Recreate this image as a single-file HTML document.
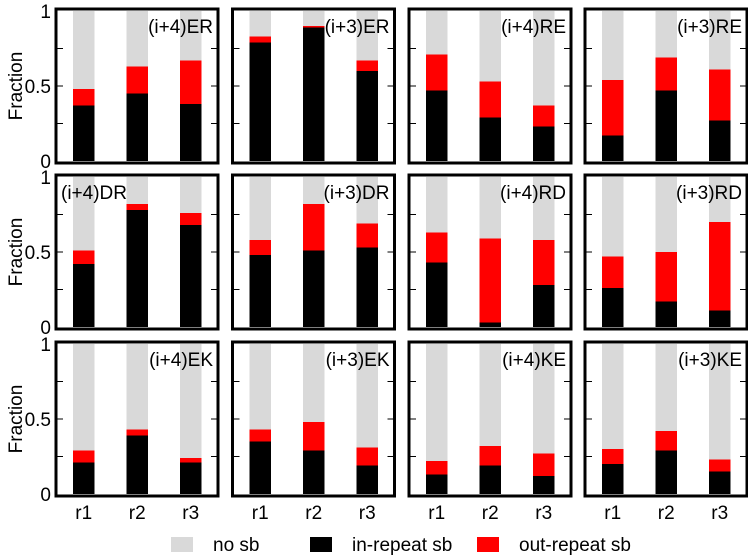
<!DOCTYPE html>
<html><head><meta charset="utf-8"><style>
body{margin:0;background:#fff;}
svg{display:block;font-family:"Liberation Sans",sans-serif;}
</style></head><body>
<svg id="c" width="748" height="555" viewBox="0 0 748 555"></svg>
<script>
const titles=["(i+4)ER","(i+3)ER","(i+4)RE","(i+3)RE","(i+4)DR","(i+3)DR","(i+4)RD","(i+3)RD","(i+4)EK","(i+3)EK","(i+4)KE","(i+3)KE"];
const categories=["r1","r2","r3"];
const inRepeat=[[.37,.45,.38],[.79,.89,.60],[.47,.29,.23],[.17,.47,.27],
[.42,.78,.68],[.48,.51,.53],[.43,.03,.28],[.26,.17,.11],
[.21,.39,.21],[.35,.29,.19],[.13,.19,.12],[.20,.29,.15]];
const totalSb=[[.48,.63,.67],[.83,.90,.67],[.71,.53,.37],[.54,.69,.61],
[.51,.82,.76],[.58,.82,.69],[.63,.59,.58],[.47,.50,.70],
[.29,.43,.24],[.43,.48,.31],[.22,.32,.27],[.30,.42,.23]];
const yTicks=[0,0.5,1];
const yTickLabels=["0","0.5","1"];
const minorTicks=[0.25,0.5,0.75];
const NS="http://www.w3.org/2000/svg";
const svg=document.getElementById('c');
function mk(t,a,p){const e=document.createElementNS(NS,t);for(const k in a)e.setAttribute(k,a[k]);(p||svg).appendChild(e);return e;}
const colX=[56,232.5,409,585],rowY=[9,175,342],W=162,H=154;
const barOff=[17,70.5,124],barW=21.5;
for(let i=0;i<12;i++){
  const r=Math.floor(i/4),c=i%4,x0=colX[c],y0=rowY[r];
  const g=mk('g',{});
  
  
  const y=v=>y0+H-2-v*(H-4);
  for(let j=0;j<3;j++){
    const bx=x0+barOff[j];
    const gb=mk('rect',{x:bx,y:y(1),width:barW,height:y(0)-y(1),fill:'#d9d9d9'},g);
    
    
    const rb=mk('rect',{x:bx,y:y(totalSb[i][j]),width:barW,height:y(0)-y(totalSb[i][j]),fill:'#ff0000'},g);
    
    
    const bb=mk('rect',{x:bx,y:y(inRepeat[i][j]),width:barW,height:y(0)-y(inRepeat[i][j]),fill:'#000'},g);
    
    
  }
  minorTicks.forEach(t=>{
    mk('line',{x1:x0,x2:x0+7,y1:y(t),y2:y(t),stroke:'#000','stroke-width':1},g);
    mk('line',{x1:x0+W-7,x2:x0+W,y1:y(t),y2:y(t),stroke:'#000','stroke-width':1},g);
  });
  const fr=mk('rect',{x:x0,y:y0,width:W,height:H,fill:'none',stroke:'#000','stroke-width':3},g);
  
  
  const left=(i===4);
  const tt=mk('text',{x:left?x0+5:x0+W-5,y:y0+24,'font-size':19,'text-anchor':left?'start':'end'},g);
  tt.textContent=titles[i];
  
  
  if(c===0){
    yTicks.forEach((t,k)=>{
      const l=mk('text',{x:51,y:y(t)+7,'font-size':19,'text-anchor':'end'});
      l.textContent=yTickLabels[k];
      
      
    });
    const yt=mk('text',{x:0,y:0,'font-size':19,'text-anchor':'middle',transform:`translate(22,${y0+H/2}) rotate(-90)`});
    yt.textContent='Fraction';
    
    
  }
  if(r===2){
    categories.forEach((cat,j)=>{
      const l=mk('text',{x:x0+barOff[j]+barW/2,y:519,'font-size':19,'text-anchor':'middle'});
      l.textContent=cat;
      
      
    });
  }
}
const legend=[["no sb","#d9d9d9",171],["in-repeat sb","#000",310],["out-repeat sb","#ff0000",477]];
legend.forEach(([lab,col,lx])=>{
  const g=mk('g',{});
  
  
  mk('rect',{x:lx,y:537,width:22,height:15,fill:col},g);
  const t=mk('text',{x:lx+42,y:551,'font-size':19},g);
  t.textContent=lab;
});
</script>
</body></html>
